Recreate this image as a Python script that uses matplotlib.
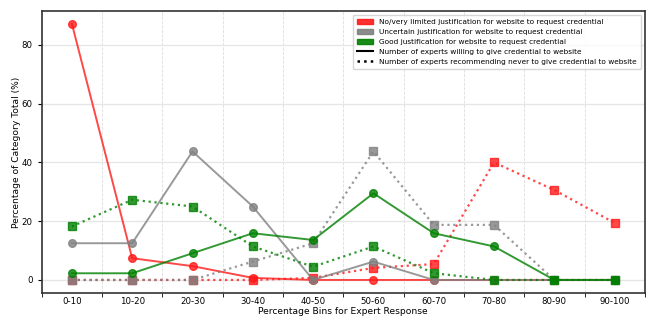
import numpy as np
import matplotlib.pyplot as plt
from matplotlib.patches import Patch
from matplotlib.lines import Line2D

bins = ['0-10', '10-20', '20-30', '30-40', '40-50', '50-60', '60-70', '70-80', '80-90', '90-100']

# willing to give credential (solid)
no_just_willing = [87.2, 7.4, 4.7, 0.7, 0, 0, 0, 0, 0, 0]
uncertain_willing = [12.5, 12.5, 43.75, 25.0, 0, 6.25, 0, 0, 0, 0]
good_willing = [2.27, 2.27, 9.09, 15.9, 13.6, 29.5, 15.9, 11.4, 0, 0]

# recommending never to give credential (dotted)
no_just_never = [0, 0, 0, 0, 0.7, 4.1, 5.4, 40.0, 30.6, 19.4]
uncertain_never = [0, 0, 0, 6.25, 12.5, 43.75, 18.75, 18.75, 0, 0]
good_never = [18.2, 27.3, 25.0, 11.4, 4.5, 11.4, 2.3, 0, 0, 0]

colors = {'red': '#ff1a1a', 'gray': 'gray', 'green': 'green'}

fig, ax = plt.subplots(figsize=(6.52, 3.18), dpi=100)
fig.subplots_adjust(left=0.064, right=0.989, bottom=0.079, top=0.965)

x = np.arange(len(bins))
series = [
    (no_just_willing, no_just_never, colors['red']),
    (uncertain_willing, uncertain_never, colors['gray']),
    (good_willing, good_never, colors['green']),
]
for willing, never, c in series:
    ax.plot(x, willing, color=c, linestyle='-', marker='o', markersize=5.5, linewidth=1.4, alpha=0.8)
    ax.plot(x, never, color=c, linestyle=':', marker='s', markersize=5.5, linewidth=1.6, alpha=0.8)

ax.set_xlim(-0.5, 9.5)
ax.set_ylim(-4.4, 91.5)
ax.set_xticks(x)
ax.set_xticklabels(bins)
ax.set_xticks(np.arange(-0.5, 10, 1), minor=True)
ax.tick_params(axis='x', which='major', length=0, labelsize=6.2, pad=3)
ax.tick_params(axis='x', which='minor', length=3)
ax.tick_params(axis='y', labelsize=6.2, length=3)
ax.set_yticks(np.arange(0, 90, 20))
ax.grid(axis='y', color='#e6e6e6', linewidth=1)
ax.grid(axis='x', which='minor', color='#dddddd', linestyle='--', linewidth=0.6)
ax.set_axisbelow(True)
for s in ax.spines.values():
    s.set_linewidth(1.2)
    s.set_color('#333333')

ax.set_xlabel('Percentage Bins for Expert Response', fontsize=6.6, labelpad=1)
ax.set_ylabel('Percentage of Category Total (%)', fontsize=6.6)
ax.yaxis.set_label_coords(-0.035, 0.5)

handles = [
    Patch(color=colors['red'], alpha=0.9, label='No/very limited justification for website to request credential'),
    Patch(color=colors['gray'], alpha=0.9, label='Uncertain justification for website to request credential'),
    Patch(color=colors['green'], alpha=0.9, label='Good justification for website to request credential'),
    Line2D([0], [0], color='black', linestyle='-', linewidth=1.5, label='Number of experts willing to give credential to website'),
    Line2D([0], [0], color='black', linestyle=':', linewidth=1.8, label='Number of experts recommending never to give credential to website'),
]
ax.legend(handles=handles, loc='upper right', fontsize=5.3, handlelength=2.2, borderpad=0.6, labelspacing=0.5)

fig.savefig('out.png', dpi=100)
